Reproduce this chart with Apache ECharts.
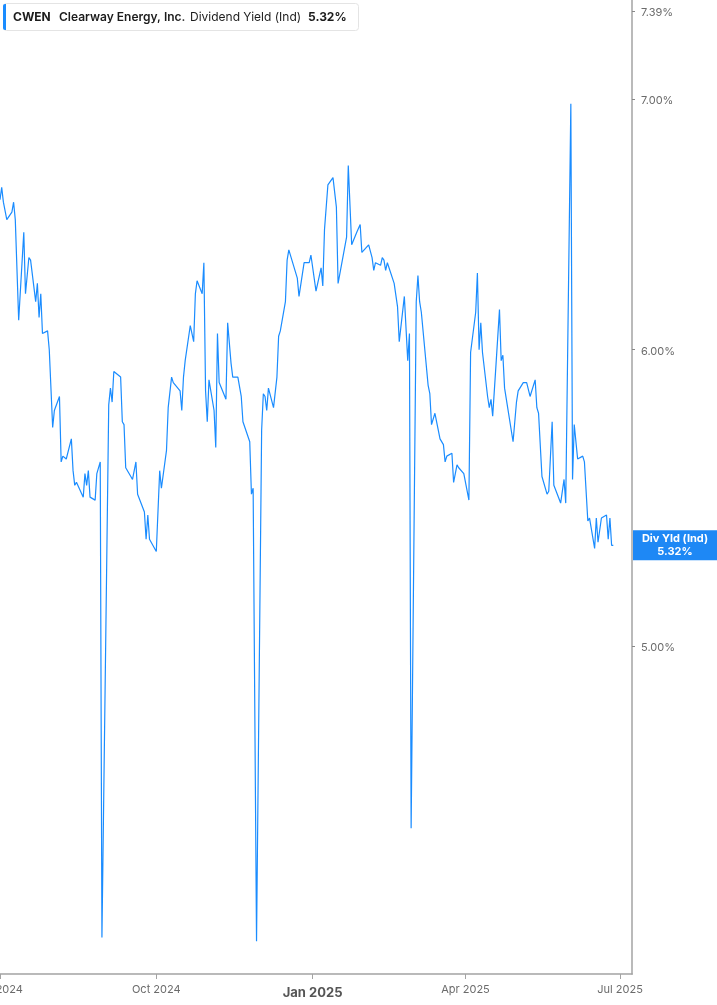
<!DOCTYPE html>
<html><head><meta charset="utf-8">
<script src="https://cdn.jsdelivr.net/npm/echarts@6/dist/echarts.min.js"></script>
<style>html,body{margin:0;padding:0;background:#fff}#c{width:717px;height:1005px}</style>
</head><body><div id="c"></div>
<script>
const ticker = 'CWEN';
const company = 'Clearway Energy, Inc.';
const metric = 'Dividend Yield (Ind)';
const lastValue = 5.32;
const endTagTitle = 'Div Yld (Ind)';

const dates = [
'2024-07-01','2024-07-02','2024-07-03','2024-07-05','2024-07-08','2024-07-09','2024-07-10','2024-07-12','2024-07-15','2024-07-16',
'2024-07-18','2024-07-19','2024-07-22','2024-07-23','2024-07-24','2024-07-25','2024-07-26','2024-07-29','2024-07-30','2024-08-01',
'2024-08-02','2024-08-05','2024-08-06','2024-08-07','2024-08-09','2024-08-12','2024-08-13','2024-08-14','2024-08-15','2024-08-19',
'2024-08-20','2024-08-21','2024-08-22','2024-08-23','2024-08-26','2024-08-27','2024-08-28','2024-08-29','2024-08-30','2024-09-03',
'2024-09-04','2024-09-05','2024-09-06','2024-09-10','2024-09-11','2024-09-12','2024-09-13','2024-09-16','2024-09-17','2024-09-19',
'2024-09-20','2024-09-24','2024-09-25','2024-09-26','2024-09-27','2024-10-01','2024-10-03','2024-10-04','2024-10-07','2024-10-08',
'2024-10-10','2024-10-11','2024-10-15','2024-10-16','2024-10-17','2024-10-18','2024-10-21','2024-10-23','2024-10-24','2024-10-25',
'2024-10-28','2024-10-29','2024-10-30','2024-10-31','2024-11-01','2024-11-04','2024-11-05','2024-11-06','2024-11-07','2024-11-11',
'2024-11-12','2024-11-14','2024-11-15','2024-11-18','2024-11-20','2024-11-21','2024-11-22','2024-11-25','2024-11-26','2024-11-27',
'2024-11-29','2024-12-02','2024-12-03','2024-12-04','2024-12-05','2024-12-06','2024-12-09','2024-12-11','2024-12-12','2024-12-13',
'2024-12-16','2024-12-17','2024-12-18','2024-12-23','2024-12-24','2024-12-27','2024-12-30','2024-12-31','2025-01-03','2025-01-06',
'2025-01-07','2025-01-08','2025-01-10','2025-01-13','2025-01-15','2025-01-16','2025-01-21','2025-01-22','2025-01-24','2025-01-27',
'2025-01-29','2025-01-30','2025-02-03','2025-02-05','2025-02-06','2025-02-07','2025-02-10','2025-02-11','2025-02-12','2025-02-13',
'2025-02-14','2025-02-18','2025-02-20','2025-02-21','2025-02-24','2025-02-26','2025-02-27','2025-02-28','2025-03-03','2025-03-04',
'2025-03-05','2025-03-06','2025-03-10','2025-03-11','2025-03-12','2025-03-14','2025-03-17','2025-03-19','2025-03-20','2025-03-21',
'2025-03-24','2025-03-25','2025-03-27','2025-03-28','2025-03-31','2025-04-03','2025-04-04','2025-04-07','2025-04-08','2025-04-09',
'2025-04-10','2025-04-11','2025-04-14','2025-04-15','2025-04-16','2025-04-17','2025-04-19','2025-04-21','2025-04-22','2025-04-23',
'2025-04-24','2025-04-29','2025-05-01','2025-05-02','2025-05-05','2025-05-07','2025-05-09','2025-05-12','2025-05-13','2025-05-14',
'2025-05-16','2025-05-19','2025-05-20','2025-05-22','2025-05-23','2025-05-27','2025-05-29','2025-05-30','2025-06-02','2025-06-03',
'2025-06-04','2025-06-06','2025-06-09','2025-06-10','2025-06-12','2025-06-13','2025-06-16','2025-06-17','2025-06-18','2025-06-20',
'2025-06-23','2025-06-24','2025-06-25','2025-06-26','2025-06-27'
];

const yieldPct = [
6.58,6.63,6.57,6.50,6.53,6.57,6.50,6.11,6.45,6.21,
6.35,6.34,6.18,6.25,6.12,6.21,6.06,6.07,6.00,5.72,
5.78,5.83,5.60,5.62,5.61,5.68,5.57,5.52,5.53,5.48,
5.56,5.52,5.57,5.48,5.47,5.56,5.56,5.60,4.18,5.80,
5.86,5.81,5.92,5.90,5.74,5.73,5.58,5.55,5.54,5.60,
5.49,5.43,5.34,5.42,5.34,5.30,5.57,5.51,5.64,5.79,
5.90,5.88,5.85,5.78,5.90,5.96,6.09,6.03,6.21,6.26,
6.21,6.33,5.85,5.74,5.89,5.78,5.65,6.06,5.88,5.82,
6.10,5.95,5.90,5.90,5.83,5.74,5.74,5.67,5.49,5.51,
4.17,5.71,5.84,5.83,5.78,5.86,5.79,5.90,6.05,6.07,
6.18,6.34,6.38,6.27,6.20,6.33,6.33,6.36,6.22,6.31,
6.24,6.46,6.64,6.67,6.55,6.25,6.43,6.72,6.40,6.45,
6.48,6.37,6.40,6.35,6.30,6.33,6.32,6.35,6.34,6.30,
6.33,6.25,6.16,6.03,6.20,5.96,6.06,4.47,6.18,6.28,
6.18,6.14,5.87,5.84,5.73,5.77,5.68,5.66,5.60,5.62,
5.63,5.53,5.59,5.58,5.56,5.47,5.99,6.14,6.29,6.00,
6.10,5.99,5.83,5.79,5.82,5.76,5.95,6.15,5.96,5.98,
5.86,5.67,5.81,5.85,5.88,5.88,5.83,5.89,5.79,5.77,
5.55,5.49,5.50,5.74,5.52,5.46,5.54,5.46,6.98,5.54,
5.73,5.61,5.62,5.60,5.40,5.41,5.31,5.41,5.33,5.41,
5.42,5.34,5.41,5.32,5.32
];

const yTickValues = [5, 6, 7, 7.39];
const xTickDates = ['2024-07-01','2024-10-01','2025-01-01','2025-04-01','2025-07-01'];
const xMinDate = '2024-07-01';
const xMaxDate = '2025-07-08';
const yMin = 4.087;
const yMax = 7.44;
const monthNames = ['Jan','Feb','Mar','Apr','May','Jun','Jul','Aug','Sep','Oct','Nov','Dec'];

function ts(s) { const p = s.split('-').map(Number); return new Date(p[0], p[1] - 1, p[2]).getTime(); }

const FONT = 'Inter, "Noto Sans", sans-serif';
const BLUE = '#1a8cff';
const TAG_BLUE = '#1e88f5';
const xTickValues = xTickDates.map(ts);

const chart = echarts.init(document.getElementById('c'), null, {renderer: 'canvas'});
const legendGraphics = [
  {type: 'rect', shape: {x: 3.5, y: 3.5, width: 355, height: 27, r: 3}, style: {fill: '#fff', stroke: '#e4e4e4', lineWidth: 1}, z: 100},
  {type: 'rect', shape: {x: 3, y: 4, width: 3, height: 26, r: [2, 0, 0, 2]}, style: {fill: BLUE}, z: 101},
  {type: 'text', x: 13, y: 17, z: 101, style: {text: ticker, fill: '#1c1c1c', font: 'bold 12px ' + FONT, verticalAlign: 'middle'}},
  {type: 'text', x: 59, y: 17, z: 101, style: {text: company, fill: '#1c1c1c', font: '600 12px ' + FONT, verticalAlign: 'middle'}},
  {type: 'text', x: 190, y: 17, z: 101, style: {text: metric, fill: '#1c1c1c', font: '12px ' + FONT, verticalAlign: 'middle'}},
  {type: 'text', x: 308, y: 17, z: 101, style: {text: lastValue.toFixed(2) + '%', fill: '#1c1c1c', font: 'bold 12px ' + FONT, verticalAlign: 'middle'}}
];

chart.setOption({
  animation: false,
  backgroundColor: '#ffffff',
  textStyle: {fontFamily: FONT},
  grid: {left: 0, right: 85, top: 0, bottom: 31, containLabel: false, outerBoundsMode: 'none'},
  xAxis: {
    type: 'value',
    min: ts(xMinDate),
    max: ts(xMaxDate),
    axisLine: {show: true, onZero: false, lineStyle: {color: '#a3a3a3', width: 1.7}},
    axisTick: {show: true, length: 5, lineStyle: {color: '#a3a3a3', width: 1}, customValues: xTickValues},
    splitLine: {show: false},
    axisLabel: {
      customValues: xTickValues,
      color: '#6b6b6b',
      fontSize: 11,
      fontFamily: FONT,
      margin: 10,
      formatter: function (v) {
        const d = new Date(v);
        const s = monthNames[d.getMonth()] + ' ' + d.getFullYear();
        return d.getMonth() === 0 ? '{b|' + s + '}' : '{n|' + s + '}';
      },
      rich: {
        n: {fontSize: 11, color: '#6b6b6b', fontFamily: FONT, padding: [0, 0, 0, 0]},
        b: {fontSize: 13, fontWeight: 'bold', color: '#555', fontFamily: FONT, padding: [3, 0, 0, 0]}
      }
    }
  },
  yAxis: {
    type: 'log',
    position: 'right',
    min: yMin,
    max: yMax,
    logBase: Math.E,
    axisLine: {show: true, lineStyle: {color: '#a3a3a3', width: 1.5}},
    axisTick: {show: true, inside: false, length: 3, lineStyle: {color: '#888'}, customValues: yTickValues},
    splitLine: {show: false},
    axisLabel: {
      customValues: yTickValues,
      color: '#6b6b6b',
      fontSize: 11,
      fontFamily: FONT,
      margin: 9,
      formatter: function (v) { return '{a|' + Number(v).toFixed(2) + '%}'; },
      rich: {a: {fontSize: 11, color: '#6b6b6b', fontFamily: FONT, padding: [4, 0, 0, 0]}}
    }
  },
  graphic: legendGraphics,
  series: [{
    type: 'line',
    data: dates.map((d, i) => [ts(d), yieldPct[i]]),
    showSymbol: false,
    symbol: 'none',
    lineStyle: {color: BLUE, width: 1.2},
    clip: true
  }]
});

// End-of-series tag placed at the value's position on the y axis scale
const tagY = chart.convertToPixel({yAxisIndex: 0}, lastValue);
const axisX = chart.convertToPixel({xAxisIndex: 0}, ts(xMaxDate));
chart.setOption({
  graphic: legendGraphics.concat([
    {type: 'rect', shape: {x: axisX + 1, y: tagY - 15, width: 717 - axisX - 1, height: 30}, style: {fill: TAG_BLUE}, z: 102},
    {type: 'text', x: axisX + 1 + (717 - axisX - 1) / 2, y: tagY, z: 103,
      style: {text: endTagTitle + '\n' + lastValue.toFixed(2) + '%', fill: '#fff', font: 'bold 11px ' + FONT,
        align: 'center', verticalAlign: 'middle', lineHeight: 13}}
  ])
});
</script>
</body></html>
